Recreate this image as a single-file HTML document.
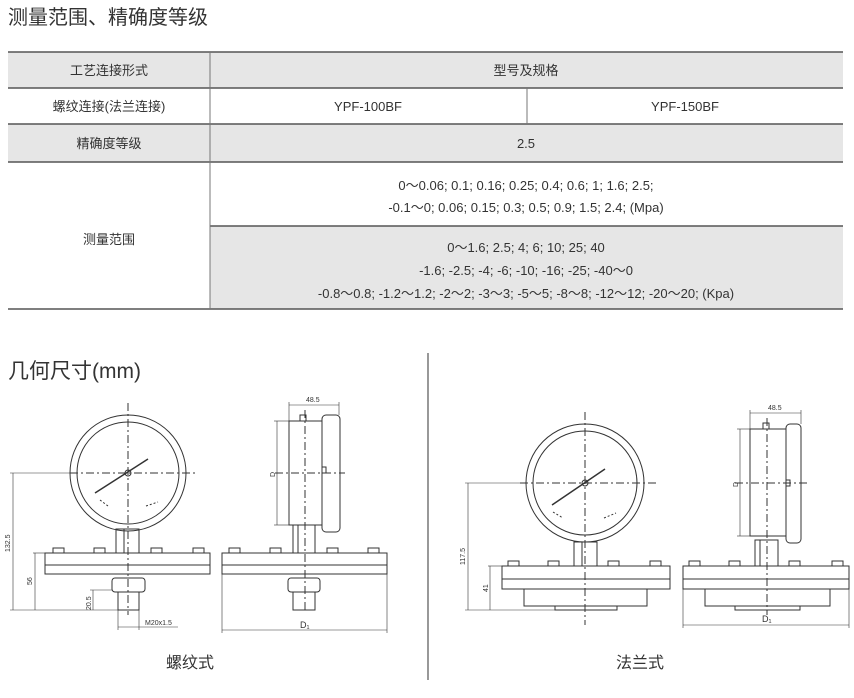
<!DOCTYPE html>
<html><head><meta charset="utf-8"><style>
html,body{margin:0;padding:0;background:#fff}
svg{display:block}
text{font-family:"Liberation Sans","Noto Sans CJK SC",sans-serif;fill:#333}
</style></head><body>
<svg width="854" height="698" viewBox="0 0 854 698" xmlns="http://www.w3.org/2000/svg">
<text x="8" y="24" font-size="20" fill="#222">测量范围、精确度等级</text>
<!-- table -->
<rect x="8" y="52" width="835" height="36" fill="#e6e6e6"/>
<rect x="8" y="124" width="835" height="38" fill="#e6e6e6"/>
<rect x="210" y="226" width="633" height="83" fill="#e6e6e6"/>
<g stroke="#555" stroke-width="1.5">
<line x1="8" y1="52" x2="843" y2="52"/>
<line x1="8" y1="88" x2="843" y2="88"/>
<line x1="8" y1="124" x2="843" y2="124"/>
<line x1="8" y1="162" x2="843" y2="162"/>
<line x1="210" y1="226" x2="843" y2="226"/>
<line x1="8" y1="309" x2="843" y2="309"/>
</g>
<g stroke="#777" stroke-width="1">
<line x1="210" y1="52" x2="210" y2="309"/>
<line x1="527" y1="88" x2="527" y2="124"/>
</g>
<g font-size="13" text-anchor="middle">
<text x="109" y="75">工艺连接形式</text>
<text x="526" y="75">型号及规格</text>
<text x="109" y="111">螺纹连接(法兰连接)</text>
<text x="368" y="111">YPF-100BF</text>
<text x="685" y="111">YPF-150BF</text>
<text x="109" y="148">精确度等级</text>
<text x="526" y="148">2.5</text>
<text x="109" y="244">测量范围</text>
<text x="526" y="190">0～0.06; 0.1; 0.16; 0.25; 0.4; 0.6; 1; 1.6; 2.5;</text>
<text x="526" y="212">-0.1～0; 0.06; 0.15; 0.3; 0.5; 0.9; 1.5; 2.4; (Mpa)</text>
<text x="526" y="252">0～1.6; 2.5; 4; 6; 10; 25; 40</text>
<text x="526" y="275">-1.6; -2.5; -4; -6; -10; -16; -25; -40～0</text>
<text x="526" y="298">-0.8～0.8; -1.2～1.2; -2～2; -3～3; -5～5; -8～8; -12～12; -20～20; (Kpa)</text>
</g>
<text x="8" y="378" font-size="21" fill="#222">几何尺寸(mm)</text>
<line x1="428" y1="353" x2="428" y2="680" stroke="#555" stroke-width="1.2"/>

<g fill="none" stroke="#333" stroke-width="1">
<!-- LEFT front gauge -->
<circle cx="128" cy="473" r="58"/>
<circle cx="128" cy="473" r="51"/>
<line x1="95" y1="493" x2="148" y2="459" stroke-width="1.5"/>
<circle cx="128" cy="473" r="3"/>
<line x1="100" y1="500" x2="108" y2="506" stroke-dasharray="2 2"/>
<line x1="146" y1="506" x2="158" y2="502" stroke-dasharray="2 2"/>
<rect x="116" y="529" width="23" height="24"/>
<line x1="124" y1="529" x2="124" y2="553"/>
<rect x="45" y="553" width="165" height="21"/>
<line x1="45" y1="565" x2="210" y2="565"/>
<rect x="53" y="548" width="11" height="5"/><rect x="94" y="548" width="11" height="5"/>
<rect x="151" y="548" width="11" height="5"/><rect x="193" y="548" width="11" height="5"/>
<rect x="112" y="578" width="33" height="14" rx="3"/>
<rect x="118" y="592" width="21" height="18"/>
<line x1="128" y1="403" x2="128" y2="615" stroke-dasharray="8 3 2 3"/>
<line x1="70" y1="473" x2="198" y2="473" stroke-dasharray="8 3 2 3"/>
<line x1="10" y1="473" x2="70" y2="473" stroke-width="0.6"/>
<line x1="13" y1="473" x2="13" y2="610" stroke-width="0.6"/>
<line x1="10" y1="610" x2="118" y2="610" stroke-width="0.6"/>
<line x1="33" y1="553" x2="45" y2="553" stroke-width="0.6"/>
<line x1="35" y1="553" x2="35" y2="610" stroke-width="0.6"/>
<line x1="90" y1="590" x2="112" y2="590" stroke-width="0.6"/>
<line x1="93" y1="590" x2="93" y2="610" stroke-width="0.6"/>
<line x1="118" y1="610" x2="118" y2="630" stroke-width="0.6"/>
<line x1="139" y1="610" x2="139" y2="630" stroke-width="0.6"/>
<line x1="118" y1="627" x2="178" y2="627" stroke-width="0.6"/>
<!-- LEFT side view -->
<rect x="289" y="421" width="33" height="104"/>
<rect x="322" y="415" width="18" height="117" rx="4"/>
<rect x="300" y="415" width="6" height="6"/>
<rect x="322" y="467" width="4" height="6"/>
<rect x="293" y="525" width="22" height="28"/>
<line x1="298" y1="525" x2="298" y2="553"/>
<rect x="222" y="553" width="165" height="21"/>
<line x1="222" y1="565" x2="387" y2="565"/>
<rect x="229" y="548" width="11" height="5"/><rect x="270" y="548" width="11" height="5"/>
<rect x="327" y="548" width="11" height="5"/><rect x="368" y="548" width="11" height="5"/>
<rect x="288" y="578" width="32" height="14" rx="3"/>
<rect x="293" y="592" width="22" height="18"/>
<line x1="305" y1="410" x2="305" y2="612" stroke-dasharray="8 3 2 3"/>
<line x1="275" y1="473" x2="345" y2="473" stroke-dasharray="8 3 2 3"/>
<line x1="277" y1="421" x2="277" y2="525" stroke-width="0.6"/>
<line x1="274" y1="421" x2="289" y2="421" stroke-width="0.6"/>
<line x1="274" y1="525" x2="289" y2="525" stroke-width="0.6"/>
<line x1="289" y1="402" x2="289" y2="421" stroke-width="0.6"/>
<line x1="339" y1="402" x2="339" y2="415" stroke-width="0.6"/>
<line x1="289" y1="405" x2="339" y2="405" stroke-width="0.6"/>
<line x1="222" y1="574" x2="222" y2="633" stroke-width="0.6"/>
<line x1="387" y1="574" x2="387" y2="633" stroke-width="0.6"/>
<line x1="222" y1="630" x2="387" y2="630" stroke-width="0.6"/>

<!-- RIGHT front gauge -->
<circle cx="585" cy="483" r="59"/>
<circle cx="585" cy="483" r="52"/>
<line x1="552" y1="505" x2="605" y2="469" stroke-width="1.5"/>
<circle cx="585" cy="483" r="3"/>
<line x1="553" y1="512" x2="563" y2="518" stroke-dasharray="2 2"/>
<line x1="604" y1="518" x2="616" y2="513" stroke-dasharray="2 2"/>
<rect x="574" y="542" width="23" height="24"/>
<line x1="582" y1="542" x2="582" y2="566"/>
<rect x="502" y="566" width="168" height="23"/>
<line x1="502" y1="579" x2="670" y2="579"/>
<rect x="524" y="589" width="123" height="17"/>
<rect x="555" y="606" width="62" height="4"/>
<rect x="508" y="561" width="11" height="5"/><rect x="548" y="561" width="11" height="5"/>
<rect x="608" y="561" width="11" height="5"/><rect x="650" y="561" width="11" height="5"/>
<line x1="585" y1="412" x2="585" y2="625" stroke-dasharray="8 3 2 3"/>
<line x1="520" y1="483" x2="658" y2="483" stroke-dasharray="8 3 2 3"/>
<line x1="465" y1="483" x2="520" y2="483" stroke-width="0.6"/>
<line x1="468" y1="483" x2="468" y2="610" stroke-width="0.6"/>
<line x1="465" y1="610" x2="555" y2="610" stroke-width="0.6"/>
<line x1="488" y1="566" x2="502" y2="566" stroke-width="0.6"/>
<line x1="490" y1="566" x2="490" y2="610" stroke-width="0.6"/>
<!-- RIGHT side view -->
<rect x="750" y="429" width="36" height="107"/>
<rect x="786" y="424" width="15" height="119" rx="4"/>
<rect x="763" y="423" width="6" height="6"/>
<rect x="786" y="480" width="4" height="6"/>
<rect x="755" y="540" width="23" height="26"/>
<line x1="760" y1="540" x2="760" y2="566"/>
<rect x="683" y="566" width="166" height="23"/>
<line x1="683" y1="579" x2="849" y2="579"/>
<rect x="705" y="589" width="125" height="17"/>
<rect x="735" y="606" width="65" height="4"/>
<rect x="689" y="561" width="11" height="5"/><rect x="729" y="561" width="11" height="5"/>
<rect x="789" y="561" width="11" height="5"/><rect x="832" y="561" width="11" height="5"/>
<line x1="767" y1="418" x2="767" y2="615" stroke-dasharray="8 3 2 3"/>
<line x1="735" y1="483" x2="808" y2="483" stroke-dasharray="8 3 2 3"/>
<line x1="740" y1="429" x2="740" y2="536" stroke-width="0.6"/>
<line x1="737" y1="429" x2="750" y2="429" stroke-width="0.6"/>
<line x1="737" y1="536" x2="750" y2="536" stroke-width="0.6"/>
<line x1="750" y1="410" x2="750" y2="429" stroke-width="0.6"/>
<line x1="801" y1="410" x2="801" y2="424" stroke-width="0.6"/>
<line x1="750" y1="413" x2="801" y2="413" stroke-width="0.6"/>
<line x1="683" y1="589" x2="683" y2="628" stroke-width="0.6"/>
<line x1="849" y1="589" x2="849" y2="628" stroke-width="0.6"/>
<line x1="683" y1="625" x2="849" y2="625" stroke-width="0.6"/>
</g>
<!-- dimension labels -->
<g font-size="7" fill="#333">
<text transform="translate(10,552) rotate(-90)">132.5</text>
<text transform="translate(32,585) rotate(-90)">56</text>
<text transform="translate(91,610) rotate(-90)">20.5</text>
<text x="145" y="625">M20x1.5</text>
<text x="306" y="402">48.5</text>
<text transform="translate(275,477) rotate(-90)">D</text>
<text x="300" y="628" font-size="9">D₁</text>
<text transform="translate(465,565) rotate(-90)">117.5</text>
<text transform="translate(488,592) rotate(-90)">41</text>
<text x="768" y="410">48.5</text>
<text transform="translate(738,487) rotate(-90)">D</text>
<text x="762" y="622" font-size="9">D₁</text>
</g>
<text x="190" y="668" font-size="16" text-anchor="middle">螺纹式</text>
<text x="640" y="668" font-size="16" text-anchor="middle">法兰式</text>
</svg>
</body></html>
